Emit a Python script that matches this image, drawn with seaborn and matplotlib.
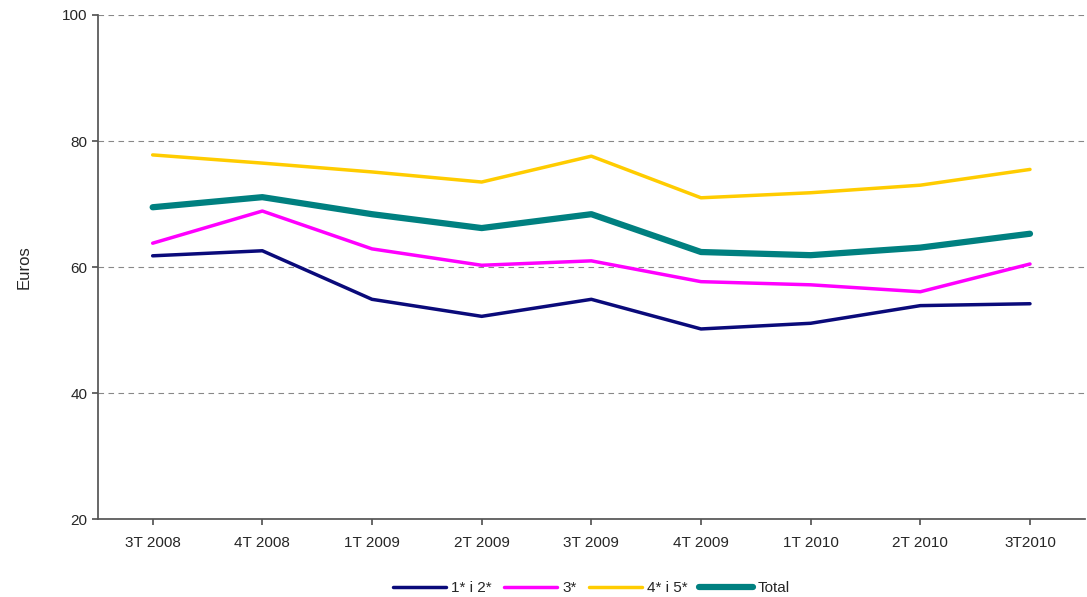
import matplotlib
matplotlib.use("Agg")
import matplotlib.pyplot as plt
import seaborn as sns
import pandas as pd

quarters = ["3T 2008", "4T 2008", "1T 2009", "2T 2009", "3T 2009",
            "4T 2009", "1T 2010", "2T 2010", "3T2010"]
s12 = [61.8, 62.6, 54.9, 52.2, 54.9, 50.2, 51.1, 53.9, 54.2]
s3 = [63.8, 68.9, 62.9, 60.3, 61.0, 57.7, 57.2, 56.1, 60.5]
s45 = [77.8, 76.5, 75.1, 73.5, 77.6, 71.0, 71.8, 73.0, 75.5]
total = [69.5, 71.1, 68.4, 66.2, 68.4, 62.4, 61.9, 63.1, 65.3]

names = ["1* i 2*", "3*", "4* i 5*", "Total"]
colors = ["#0A0A7A", "#FF00FF", "#FFCC00", "#008080"]
widths = [2.5, 2.5, 2.5, 4.5]

rows = []
for name, vals in zip(names, [s12, s3, s45, total]):
    for q, v in zip(quarters, vals):
        rows.append({"quarter": q, "value": v, "series": name})
df = pd.DataFrame(rows)

sns.set_theme(style="white")
plt.rcParams["font.family"] = ["Liberation Sans", "DejaVu Sans"]

fig, ax = plt.subplots(figsize=(10.87, 5.97), dpi=100)
for name, col, lw in zip(names, colors, widths):
    d = df[df["series"] == name]
    sns.lineplot(data=d, x="quarter", y="value", color=col, linewidth=lw,
                 label=name, ax=ax, sort=False)

ax.set_ylim(20, 100)
ax.set_yticks([20, 40, 60, 80, 100])
ax.set_xlim(-0.5, len(quarters) - 0.5)
ax.yaxis.grid(True, linestyle=(0, (5, 4)), color="#888888", linewidth=0.8)
ax.set_axisbelow(True)
for s in ["top", "right"]:
    ax.spines[s].set_visible(False)
for s in ["left", "bottom"]:
    ax.spines[s].set_color("#555555")
ax.tick_params(axis="both", labelsize=11, length=4, color="#555555", left=True, bottom=True)
ax.tick_params(axis="x", pad=8)
ax.set_xlabel("")
ax.set_ylabel("Euros", fontsize=12, labelpad=22)
ax.legend(loc="upper center", bbox_to_anchor=(0.5, -0.095), ncol=4, frameon=False,
          fontsize=11, handlelength=3.5, columnspacing=0.8, handletextpad=0.3)
fig.subplots_adjust(left=0.09, right=0.998, top=0.975, bottom=0.13)
fig.savefig("out.png")
